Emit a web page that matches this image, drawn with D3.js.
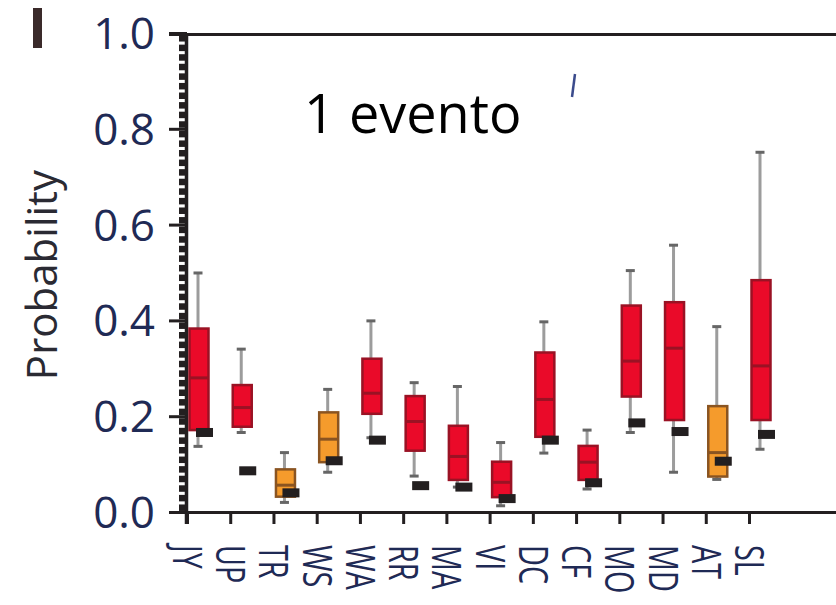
<!DOCTYPE html>
<html>
<head>
<meta charset="utf-8">
<script src="https://cdn.jsdelivr.net/npm/d3@7"></script>
<style>
  body { margin: 0; background: #fff; }
  svg { display: block; }
</style>
</head>
<body>
<div id="chart"></div>
<script>
// sites along the x axis
const sites = ["JY", "UP", "TR", "WS", "WA", "RR", "MA", "VI", "DC", "CF", "MO", "MD", "AT", "SL"];
// box colour group: r = red, o = orange
const group = ["r", "r", "o", "o", "r", "r", "r", "r", "r", "r", "r", "r", "o", "r"];

// box plot stats (probability)
const whiskerLow  = [0.137, 0.166, 0.020, 0.083, 0.155, 0.075, 0.052, 0.013, 0.123, 0.048, 0.166, 0.083, 0.068, 0.131];
const q1          = [0.171, 0.178, 0.032, 0.104, 0.205, 0.128, 0.067, 0.031, 0.157, 0.067, 0.241, 0.192, 0.074, 0.192];
const median      = [0.280, 0.218, 0.056, 0.152, 0.248, 0.189, 0.116, 0.062, 0.235, 0.104, 0.315, 0.342, 0.124, 0.305];
const q3          = [0.383, 0.265, 0.089, 0.208, 0.320, 0.242, 0.180, 0.105, 0.333, 0.138, 0.431, 0.438, 0.221, 0.484];
const whiskerHigh = [0.499, 0.340, 0.124, 0.256, 0.399, 0.270, 0.262, 0.145, 0.397, 0.171, 0.504, 0.557, 0.387, 0.751];
// black dash = observed value
const observed    = [0.166, 0.086, 0.040, 0.107, 0.150, 0.055, 0.052, 0.028, 0.150, 0.061, 0.186, 0.168, 0.106, 0.162];

const yTicks = [0, 0.2, 0.4, 0.6, 0.8, 1.0];

const width = 836, height = 605;
const svg = d3.select("#chart").append("svg")
  .attr("width", width)
  .attr("height", height);

const x = d3.scalePoint().domain(sites).range([187, 749]);
const y = d3.scaleLinear().domain([0, 1]).range([512, 33]);

const labelColor = "#1f2a55";
const fills = { r: "#ea0a29", o: "#f59b2c" };
const strokes = { r: "#9a1224", o: "#8a5421" };

const data = sites.map((s, i) => ({
  site: s, g: group[i], lo: whiskerLow[i], q1: q1[i], med: median[i],
  q3: q3[i], hi: whiskerHigh[i], obs: observed[i]
}));

// frame lines
svg.append("line").attr("x1", 169).attr("x2", width).attr("y1", 34.5).attr("y2", 34.5)
  .attr("stroke", "#231f20").attr("stroke-width", 3);
svg.append("line").attr("x1", 170).attr("x2", width).attr("y1", 512.5).attr("y2", 512.5)
  .attr("stroke", "#231f20").attr("stroke-width", 3);
svg.append("line").attr("x1", 186.5).attr("x2", 186.5).attr("y1", 33).attr("y2", 524)
  .attr("stroke", "#231f20").attr("stroke-width", 3.5);

// minor ticks (dense)
const minor = d3.range(1, 100, 2).map(d => d / 100);
svg.append("g")
  .attr("transform", "translate(186,0)")
  .call(d3.axisLeft(y).tickValues(minor).tickSize(7).tickFormat(""))
  .call(g => g.select(".domain").remove())
  .call(g => g.selectAll("line").attr("stroke", "#231f20").attr("stroke-width", 6.5));

// major ticks + labels
svg.append("g")
  .attr("transform", "translate(187,0)")
  .call(d3.axisLeft(y).tickValues(yTicks).tickSize(18).tickPadding(14).tickFormat(d3.format(".1f")))
  .call(g => g.select(".domain").remove())
  .call(g => g.selectAll("line").attr("stroke", "#231f20").attr("stroke-width", 3))
  .call(g => g.selectAll("text")
    .attr("fill", labelColor)
    .attr("dy", "0.35em")
    .style("font-family", "'Open Sans', sans-serif")
    .style("font-size", "44px"));

// x ticks
svg.append("g")
  .attr("transform", "translate(0,512)")
  .call(d3.axisBottom(x).tickSize(12).tickFormat(""))
  .call(g => g.select(".domain").remove())
  .call(g => g.selectAll("line").attr("stroke", "#231f20").attr("stroke-width", 3));

// x labels, rotated and squeezed
svg.selectAll(".xlab")
  .data(sites)
  .enter()
  .append("text")
  .attr("class", "xlab")
  .attr("transform", d => `translate(${x(d)},545) rotate(90) scale(0.72,1)`)
  .attr("dy", "0.35em")
  .attr("fill", labelColor)
  .style("font-family", "'Open Sans', sans-serif")
  .style("font-size", "40px")
  .text(d => d);

// y title
svg.append("text")
  .attr("transform", "translate(57,275) rotate(-90)")
  .attr("text-anchor", "middle")
  .attr("fill", "#2a2a33")
  .style("font-family", "'Open Sans', sans-serif")
  .style("font-size", "42px")
  .text("Probability");

// whiskers
const wx = d => x(d.site) + 11;
svg.selectAll(".whisker")
  .data(data)
  .enter()
  .append("line")
  .attr("x1", wx).attr("x2", wx)
  .attr("y1", d => y(d.hi)).attr("y2", d => y(d.lo))
  .attr("stroke", "#9c9c9c").attr("stroke-width", 3);

svg.selectAll(".capHi")
  .data(data)
  .enter()
  .append("line")
  .attr("x1", d => wx(d) - 4.5).attr("x2", d => wx(d) + 4.5)
  .attr("y1", d => y(d.hi)).attr("y2", d => y(d.hi))
  .attr("stroke", "#666").attr("stroke-width", 3);

svg.selectAll(".capLo")
  .data(data)
  .enter()
  .append("line")
  .attr("x1", d => wx(d) - 4.5).attr("x2", d => wx(d) + 4.5)
  .attr("y1", d => y(d.lo)).attr("y2", d => y(d.lo))
  .attr("stroke", "#666").attr("stroke-width", 3);

// boxes
const bw = 19;
svg.selectAll(".box")
  .data(data)
  .enter()
  .append("rect")
  .attr("x", d => x(d.site) + 12 - bw / 2)
  .attr("width", bw)
  .attr("y", d => y(d.q3))
  .attr("height", d => y(d.q1) - y(d.q3))
  .attr("fill", d => fills[d.g])
  .attr("stroke", d => strokes[d.g])
  .attr("stroke-width", 2.5);

svg.selectAll(".median")
  .data(data)
  .enter()
  .append("line")
  .attr("x1", d => x(d.site) + 12 - bw / 2).attr("x2", d => x(d.site) + 12 + bw / 2)
  .attr("y1", d => y(d.med)).attr("y2", d => y(d.med))
  .attr("stroke", d => strokes[d.g]).attr("stroke-width", 3);

// observed dashes
svg.selectAll(".obs")
  .data(data)
  .enter()
  .append("rect")
  .attr("x", d => x(d.site) + 17.5 - 8.5)
  .attr("width", 17)
  .attr("y", d => y(d.obs) - 4.5)
  .attr("height", 9)
  .attr("fill", "#231f20");

// annotation
svg.append("text")
  .attr("x", 304)
  .attr("y", 133)
  .attr("fill", "#000")
  .style("font-family", "'Open Sans', sans-serif")
  .style("font-size", "54px")
  .text("1 evento");

// leftover fragments of the cropped panel
svg.append("rect").attr("x", 33).attr("y", 8).attr("width", 9).attr("height", 40).attr("fill", "#3a2a2a");
svg.append("line").attr("x1", 572).attr("y1", 97).attr("x2", 575).attr("y2", 74)
  .attr("stroke", "#3b4b8c").attr("stroke-width", 2.5);
</script>
</body>
</html>
